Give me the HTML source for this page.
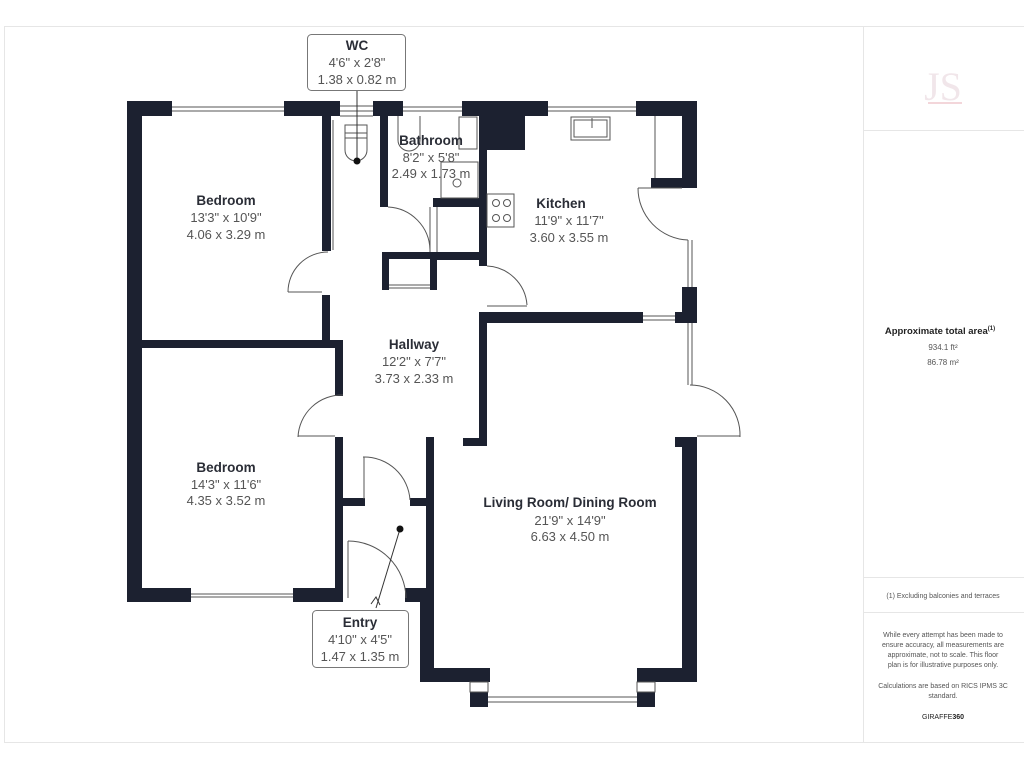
<!DOCTYPE html>
<html><head><meta charset="utf-8"><style>
html,body{margin:0;padding:0;background:#fff;}
svg{display:block;}
text{font-family:"Liberation Sans",sans-serif;}
.n{font-size:13.5px;font-weight:bold;fill:#2a2d36;text-anchor:middle;}
.d{font-size:13px;fill:#555;text-anchor:middle;}
.p{font-size:7px;fill:#555;text-anchor:middle;}
</style></head><body>
<svg width="1024" height="768" viewBox="0 0 1024 768" xmlns="http://www.w3.org/2000/svg">
<rect x="4.5" y="26.5" width="1030" height="716" fill="none" stroke="#e6e6e6"/>
<line x1="863.5" y1="26" x2="863.5" y2="742" stroke="#e6e6e6"/>
<line x1="863" y1="130.5" x2="1024" y2="130.5" stroke="#e6e6e6"/>
<line x1="863" y1="577.5" x2="1024" y2="577.5" stroke="#e6e6e6"/>
<line x1="863" y1="612.5" x2="1024" y2="612.5" stroke="#e6e6e6"/>
<text x="943" y="100" style="font-family:'Liberation Serif',serif;font-size:40px;fill:#f1e6ea;text-anchor:middle">JS</text>
<line x1="928" y1="103" x2="962" y2="103" stroke="#f3d6da" stroke-width="2"/>
<text x="940" y="334" style="font-size:9.5px;font-weight:bold;fill:#222;text-anchor:middle">Approximate total area<tspan style="font-size:6px" dy="-4">(1)</tspan></text>
<text x="943" y="350" class="p" style="font-size:8px">934.1 ft²</text>
<text x="943" y="365" class="p" style="font-size:8px">86.78 m²</text>
<text x="943" y="598" class="p">(1) Excluding balconies and terraces</text>
<text x="943" y="637" class="p">While every attempt has been made to</text>
<text x="943" y="647" class="p">ensure accuracy, all measurements are</text>
<text x="943" y="657" class="p">approximate, not to scale. This floor</text>
<text x="943" y="667" class="p">plan is for illustrative purposes only.</text>
<text x="943" y="688" class="p">Calculations are based on RICS IPMS 3C</text>
<text x="943" y="698" class="p">standard.</text>
<text x="943" y="719" class="p" style="fill:#222">GIRAFFE<tspan font-weight="bold">360</tspan></text>

<g fill="#1c2130">
<!-- top wall -->
<rect x="127" y="101" width="45" height="15"/>
<rect x="284" y="101" width="56" height="15"/>
<rect x="373" y="101" width="30" height="15"/>
<rect x="462" y="101" width="86" height="15"/>
<rect x="479" y="101" width="46" height="49"/>
<rect x="636" y="101" width="61" height="15"/>
<!-- left wall -->
<rect x="127" y="101" width="15" height="501"/>
<!-- bedroom1 right / wc left -->
<rect x="322" y="101" width="9" height="150"/>
<rect x="322" y="295" width="8" height="53"/>
<!-- bedroom divider -->
<rect x="127" y="340" width="216" height="8"/>
<!-- bedroom2 right -->
<rect x="335" y="340" width="8" height="56"/>
<rect x="335" y="437" width="8" height="165"/>
<!-- bedroom2 bottom -->
<rect x="127" y="588" width="64" height="14"/>
<rect x="293" y="588" width="50" height="14"/>
<!-- bathroom left -->
<rect x="380" y="101" width="8" height="106"/>
<!-- bathroom lower walls -->
<rect x="433" y="198" width="54" height="9"/>
<rect x="430" y="252" width="57" height="8"/>
<!-- cupboard -->
<rect x="382" y="252" width="7" height="38"/>
<rect x="430" y="252" width="7" height="38"/>
<rect x="382" y="252" width="55" height="7"/>
<!-- hallway right / kitchen left -->
<rect x="479" y="101" width="8" height="165"/>
<rect x="479" y="312" width="8" height="134"/>
<rect x="463" y="438" width="24" height="8"/>
<!-- kitchen/living wall -->
<rect x="487" y="312" width="156" height="11"/>
<rect x="675" y="312" width="22" height="11"/>
<!-- right walls -->
<rect x="682" y="101" width="15" height="87"/>
<rect x="651" y="178" width="46" height="10"/>
<rect x="682" y="287" width="15" height="36"/>
<rect x="675" y="437" width="22" height="10"/>
<rect x="682" y="437" width="15" height="245"/>
<!-- entry -->
<rect x="343" y="498" width="22" height="8"/>
<rect x="410" y="498" width="24" height="8"/>
<rect x="426" y="437" width="8" height="245"/>
<rect x="405" y="588" width="29" height="14"/>
<rect x="420" y="590" width="14" height="92"/>
<!-- living bottom -->
<rect x="420" y="668" width="70" height="14"/>
<rect x="637" y="668" width="60" height="14"/>
<rect x="470" y="692" width="18" height="15"/>
<rect x="637" y="692" width="18" height="15"/>
</g>

<g fill="none" stroke="#555" stroke-width="1">
<!-- windows -->
<line x1="172" y1="107" x2="284" y2="107"/><line x1="172" y1="111" x2="284" y2="111"/>
<line x1="403" y1="107" x2="462" y2="107"/><line x1="403" y1="111" x2="462" y2="111"/>
<line x1="548" y1="107" x2="636" y2="107"/><line x1="548" y1="111" x2="636" y2="111"/>
<line x1="191" y1="594" x2="293" y2="594"/><line x1="191" y1="597" x2="293" y2="597"/>
<line x1="688" y1="240" x2="688" y2="287"/><line x1="692" y1="240" x2="692" y2="287"/>
<line x1="688" y1="323" x2="688" y2="385"/><line x1="692" y1="323" x2="692" y2="385"/>
<line x1="643" y1="316" x2="675" y2="316"/><line x1="643" y1="320" x2="675" y2="320"/>
<line x1="488" y1="697" x2="637" y2="697"/><line x1="488" y1="702" x2="637" y2="702"/>
<rect x="470" y="682" width="18" height="10"/><rect x="637" y="682" width="18" height="10"/>
<line x1="389" y1="285" x2="430" y2="285"/><line x1="389" y1="288" x2="430" y2="288"/>
<!-- WC stair lines -->
<line x1="340" y1="106" x2="373" y2="106"/><line x1="340" y1="111" x2="373" y2="111"/><line x1="340" y1="116" x2="373" y2="116"/>
<path d="M345 125 V150 A11 11 0 0 0 367 150 V125 Z"/>
<line x1="345" y1="133" x2="367" y2="133"/><line x1="345" y1="138" x2="367" y2="138"/>
<line x1="333" y1="120" x2="333" y2="250"/>
<path d="M398 116 V140 A11 11 0 0 0 420 140 V116"/>
<rect x="459" y="117" width="18" height="32"/>
<rect x="441" y="162" width="37" height="36"/>
<circle cx="457" cy="183" r="4"/>
<line x1="437" y1="207" x2="437" y2="252"/>
<!-- kitchen -->
<rect x="487" y="194" width="27" height="33"/>
<circle cx="496" cy="203" r="3.5"/><circle cx="507" cy="203" r="3.5"/>
<circle cx="496" cy="218" r="3.5"/><circle cx="507" cy="218" r="3.5"/>
<rect x="571" y="117" width="39" height="23"/><rect x="574" y="120" width="33" height="17"/>
<line x1="592" y1="118" x2="592" y2="128"/>
<line x1="655" y1="116" x2="655" y2="178"/>
<!-- doors -->
<path d="M288 292 A40 40 0 0 1 328 252"/><line x1="288" y1="292" x2="322" y2="292"/>
<path d="M388 207 A44 44 0 0 1 430 250"/><line x1="430" y1="207" x2="430" y2="252"/>
<path d="M487 266 A42 42 0 0 1 527 305"/><line x1="487" y1="306" x2="527" y2="306"/>
<path d="M638 188 A52 52 0 0 0 688 240"/><line x1="638" y1="188" x2="682" y2="188"/>
<path d="M298 437 A44 44 0 0 1 343 395"/><line x1="298" y1="436" x2="335" y2="436"/>
<path d="M363 457 A46 46 0 0 1 410 500"/><line x1="364" y1="457" x2="364" y2="499"/>
<path d="M348 541 A58 58 0 0 1 406 598"/><line x1="348" y1="541" x2="348" y2="598"/>
<path d="M690 385 A50 50 0 0 1 740 437"/><line x1="697" y1="436" x2="740" y2="436"/>
</g>

<!-- WC label -->
<line x1="357" y1="90" x2="357" y2="161" stroke="#333"/>
<circle cx="357" cy="161" r="3.5" fill="#111"/>
<rect x="307.5" y="34.5" width="98" height="56" rx="4" fill="#fff" stroke="#777"/>
<text x="357" y="50" class="n">WC</text>
<text x="357" y="67" class="d">4'6" x 2'8"</text>
<text x="357" y="84" class="d">1.38 x 0.82 m</text>

<!-- Entry label -->
<line x1="400" y1="529" x2="376" y2="608" stroke="#333"/>
<path d="M371 604 L376 597 L380 605" fill="none" stroke="#333"/>
<circle cx="400" cy="529" r="3.5" fill="#111"/>
<rect x="312.5" y="610.5" width="96" height="57" rx="4" fill="#fff" stroke="#777"/>
<text x="360" y="627" class="n">Entry</text>
<text x="360" y="644" class="d">4'10" x 4'5"</text>
<text x="360" y="661" class="d">1.47 x 1.35 m</text>

<text x="226" y="205" class="n">Bedroom</text>
<text x="226" y="222" class="d">13'3" x 10'9"</text>
<text x="226" y="239" class="d">4.06 x 3.29 m</text>
<text x="431" y="145" class="n">Bathroom</text>
<text x="431" y="162" class="d">8'2" x 5'8"</text>
<text x="431" y="178" class="d">2.49 x 1.73 m</text>
<text x="561" y="208" class="n">Kitchen</text>
<text x="569" y="225" class="d">11'9" x 11'7"</text>
<text x="569" y="242" class="d">3.60 x 3.55 m</text>
<text x="414" y="349" class="n">Hallway</text>
<text x="414" y="366" class="d">12'2" x 7'7"</text>
<text x="414" y="383" class="d">3.73 x 2.33 m</text>
<text x="226" y="472" class="n">Bedroom</text>
<text x="226" y="489" class="d">14'3" x 11'6"</text>
<text x="226" y="505" class="d">4.35 x 3.52 m</text>
<text x="570" y="507" class="n">Living Room/ Dining Room</text>
<text x="570" y="525" class="d">21'9" x 14'9"</text>
<text x="570" y="541" class="d">6.63 x 4.50 m</text>
</svg>
</body></html>
